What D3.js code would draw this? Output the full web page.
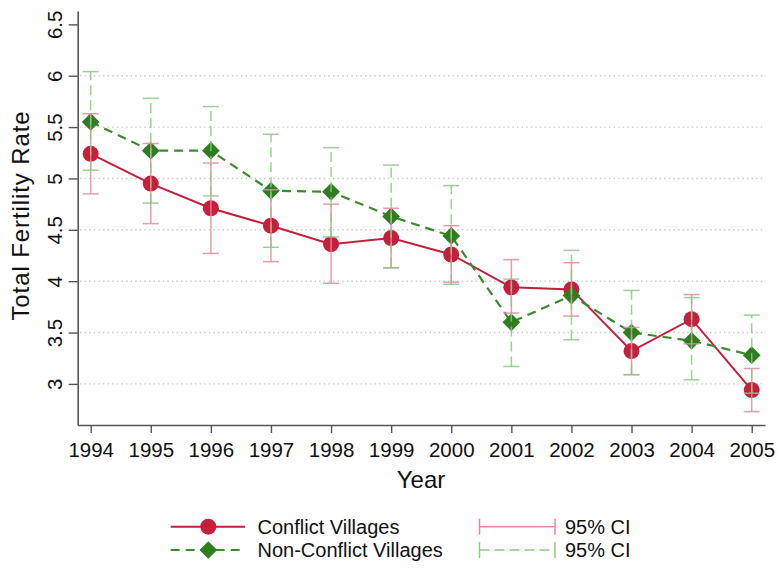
<!DOCTYPE html>
<html>
<head>
<meta charset="utf-8">
<script src="https://cdn.jsdelivr.net/npm/d3@7"></script>
<style>
  html, body { margin: 0; padding: 0; background: #fff; }
  svg { display: block; font-family: "Liberation Sans", Arial, Helvetica, sans-serif; }
</style>
</head>
<body>
<svg id="chart" width="777" height="568"></svg>
<script>
// Total fertility rate by year, conflict vs non-conflict villages, with 95% CIs
const years = [1994, 1995, 1996, 1997, 1998, 1999, 2000, 2001, 2002, 2003, 2004, 2005];

const conflict   = [5.24, 4.95, 4.71, 4.54, 4.36, 4.42, 4.26, 3.94, 3.92, 3.32, 3.63, 2.94];
const conflictLo = [4.85, 4.56, 4.27, 4.19, 3.98, 4.13, 3.99, 3.69, 3.66, 3.09, 3.39, 2.73];
const conflictHi = [5.63, 5.34, 5.15, 4.89, 4.75, 4.71, 4.54, 4.21, 4.18, 3.55, 3.87, 3.15];

const nonConflict   = [5.55, 5.27, 5.27, 4.88, 4.87, 4.63, 4.44, 3.60, 3.86, 3.50, 3.42, 3.28];
const nonConflictLo = [5.08, 4.76, 4.83, 4.33, 4.43, 4.13, 3.97, 3.17, 3.43, 3.09, 3.04, 2.91];
const nonConflictHi = [6.04, 5.78, 5.70, 5.43, 5.30, 5.13, 4.93, 4.02, 4.30, 3.91, 3.84, 3.67];

const yTicks = [3, 3.5, 4, 4.5, 5, 5.5, 6, 6.5];
const yTickLabels = ["3", "3.5", "4", "4.5", "5", "5.5", "6", "6.5"];
const gridValues = [3, 3.5, 4, 4.5, 5, 5.5, 6];

const seriesNames = ["Conflict Villages", "Non-Conflict Villages"];
const ciLabel = "95% CI";
const xTitle = "Year";
const yTitle = "Total Fertility Rate";

const RED = "#c41f3b", RED_CI = "#e58a9c";
const GREEN = "#2e7d1f", GREEN_LINE = "#3d8a2c", GREEN_CI = "#8cc882";
const AXIS = "#555";

const svg = d3.select("#chart");

const x = d3.scaleLinear().domain([1993.784, 2005.221]).range([77.7, 765]);
const y = d3.scaleLinear().domain([2.6, 6.63]).range([425, 11]);

// gridlines
svg.append("g").selectAll("line").data(gridValues).join("line")
  .attr("x1", 80).attr("x2", 765)
  .attr("y1", d => y(d)).attr("y2", d => y(d))
  .attr("stroke", "#c9c9c9").attr("stroke-width", 1.4)
  .attr("stroke-dasharray", "1.4,3.2");

// axes
const xAxis = svg.append("g").attr("transform", `translate(0,${y.range()[0]})`)
  .call(d3.axisBottom(x).tickValues(years).tickFormat(d3.format("d")).tickSize(8).tickSizeOuter(0).tickPadding(9));
const yAxis = svg.append("g").attr("transform", `translate(${x.range()[0]},0)`)
  .call(d3.axisLeft(y).tickValues(yTicks).tickFormat((d, i) => yTickLabels[i]).tickSize(9).tickSizeOuter(0));

[xAxis, yAxis].forEach(g => {
  g.select(".domain").attr("stroke", AXIS).attr("stroke-width", 1.6);
  g.selectAll(".tick line").attr("stroke", AXIS).attr("stroke-width", 1.4);
  g.selectAll("text").attr("fill", "#111").style("font-size", "20.5px")
    .style("font-family", "'Liberation Sans', Arial, Helvetica, sans-serif");
});
xAxis.selectAll(".tick text").attr("dy", "0.71em");
yAxis.selectAll(".tick text")
  .attr("x", null).attr("dy", null)
  .attr("text-anchor", "middle")
  .attr("transform", "translate(-15.7,0) rotate(-90)");

// axis titles
svg.append("text").attr("x", 421).attr("y", 487.5).attr("text-anchor", "middle")
  .style("font-size", "24px").attr("fill", "#111").text(xTitle);
svg.append("text").attr("transform", "translate(28.5,215.5) rotate(-90)").attr("text-anchor", "middle")
  .style("font-size", "24px").style("letter-spacing", "0.9px").attr("fill", "#111").text(yTitle);

const line = d3.line().x((d, i) => x(years[i])).y(d => y(d));

// connected series
svg.append("path").datum(conflict).attr("d", line)
  .attr("fill", "none").attr("stroke", RED).attr("stroke-width", 2);
svg.append("g").selectAll("circle").data(conflict).join("circle")
  .attr("cx", (d, i) => x(years[i])).attr("cy", d => y(d)).attr("r", 8).attr("fill", RED);

svg.append("path").datum(nonConflict).attr("d", line)
  .attr("fill", "none").attr("stroke", GREEN_LINE).attr("stroke-width", 2.2)
  .attr("stroke-dasharray", "9,6");
const diamond = d3.symbol().type(d3.symbolDiamond2).size(200);
svg.append("g").selectAll("path").data(nonConflict).join("path")
  .attr("d", diamond)
  .attr("transform", (d, i) => `translate(${x(years[i])},${y(d)})`)
  .attr("fill", GREEN);

// confidence interval caps drawn over markers
function drawCI(lo, hi, color, dash) {
  const g = svg.append("g").attr("stroke", color).attr("stroke-width", 1.5).attr("fill", "none")
    .attr("stroke-opacity", 0.85);
  g.selectAll("line.v").data(years).join("line").attr("class", "v")
    .attr("x1", d => x(d)).attr("x2", d => x(d))
    .attr("y1", (d, i) => y(lo[i])).attr("y2", (d, i) => y(hi[i]))
    .attr("stroke-dasharray", dash);
  g.selectAll("line.lo").data(years).join("line").attr("class", "lo")
    .attr("x1", d => x(d) - 8).attr("x2", d => x(d) + 8)
    .attr("y1", (d, i) => y(lo[i])).attr("y2", (d, i) => y(lo[i]));
  g.selectAll("line.hi").data(years).join("line").attr("class", "hi")
    .attr("x1", d => x(d) - 8).attr("x2", d => x(d) + 8)
    .attr("y1", (d, i) => y(hi[i])).attr("y2", (d, i) => y(hi[i]));
}
drawCI(conflictLo, conflictHi, RED_CI, null);
drawCI(nonConflictLo, nonConflictHi, GREEN_CI, "10,5");

// legend
const legend = svg.append("g");
const rowY = [526.7, 550];
legend.append("line").attr("x1", 170.7).attr("x2", 245).attr("y1", rowY[0]).attr("y2", rowY[0])
  .attr("stroke", RED).attr("stroke-width", 2);
legend.append("circle").attr("cx", 208.3).attr("cy", rowY[0]).attr("r", 8).attr("fill", RED);
legend.append("line").attr("x1", 170.7).attr("x2", 245).attr("y1", rowY[1]).attr("y2", rowY[1])
  .attr("stroke", GREEN_LINE).attr("stroke-width", 2.2).attr("stroke-dasharray", "9,6");
legend.append("path").attr("d", diamond).attr("transform", `translate(208.3,${rowY[1]})`).attr("fill", GREEN);

legend.selectAll("text.s").data(seriesNames).join("text").attr("class", "s")
  .attr("x", 257.5).attr("y", (d, i) => rowY[i]).attr("dy", "0.36em")
  .style("font-size", "20px").attr("fill", "#111").text(d => d);

// CI legend keys
[[RED_CI, null], [GREEN_CI, "10,5"]].forEach(([c, dash], i) => {
  legend.append("line").attr("x1", 479.5).attr("x2", 555).attr("y1", rowY[i]).attr("y2", rowY[i])
    .attr("stroke", c).attr("stroke-width", 1.5).attr("stroke-dasharray", dash);
  legend.append("line").attr("x1", 479.5).attr("x2", 479.5).attr("y1", rowY[i] - 8).attr("y2", rowY[i] + 8)
    .attr("stroke", c).attr("stroke-width", 1.5);
  legend.append("line").attr("x1", 555).attr("x2", 555).attr("y1", rowY[i] - 8).attr("y2", rowY[i] + 8)
    .attr("stroke", c).attr("stroke-width", 1.5);
  legend.append("text").attr("x", 565).attr("y", rowY[i]).attr("dy", "0.36em")
    .style("font-size", "20px").attr("fill", "#111").text(ciLabel);
});
</script>
</body>
</html>
